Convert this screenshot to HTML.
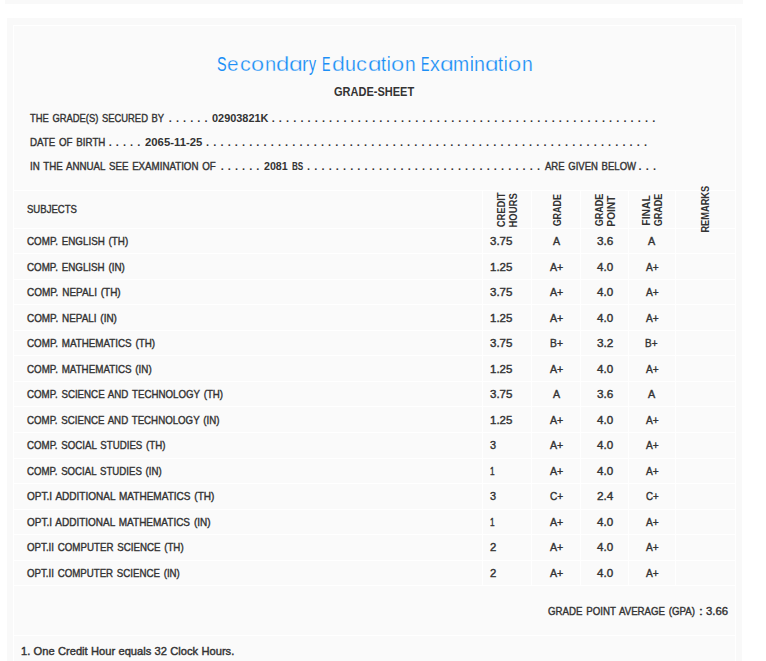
<!DOCTYPE html>
<html><head><meta charset="utf-8"><title>Grade Sheet</title>
<style>
html,body{margin:0;padding:0;}
body{width:766px;height:661px;overflow:hidden;position:relative;background:#ffffff;font-family:"Liberation Sans",sans-serif;}
.bar{position:absolute;left:5px;top:0;width:738px;height:4px;background:#f9f9f9;}
.outer{position:absolute;left:7px;top:18px;width:735px;height:643px;background:#f9f9f9;}
.inner{position:absolute;left:13px;top:25px;width:721px;height:640px;background:#fafafa;border:1px solid #ffffff;}
.ln{position:absolute;left:0;top:0;}
.t{position:absolute;white-space:pre;transform-origin:0 0;font-family:"Liberation Sans",sans-serif;}
.r{position:absolute;width:0;height:0;transform-origin:0 0;}
</style></head><body>
<div class="bar"></div>
<div class="outer"></div>
<div class="inner"></div>
<svg class="ln" width="766" height="661" viewBox="0 0 766 661" fill="#ffffff"><rect x="14" y="190.00" width="721" height="1"/><rect x="14" y="228.00" width="721" height="1"/><rect x="14" y="253.00" width="721" height="1"/><rect x="14" y="279.00" width="721" height="1"/><rect x="14" y="304.00" width="721" height="1"/><rect x="14" y="330.00" width="721" height="1"/><rect x="14" y="355.00" width="721" height="1"/><rect x="14" y="381.00" width="721" height="1"/><rect x="14" y="406.00" width="721" height="1"/><rect x="14" y="432.00" width="721" height="1"/><rect x="14" y="458.00" width="721" height="1"/><rect x="14" y="483.00" width="721" height="1"/><rect x="14" y="509.00" width="721" height="1"/><rect x="14" y="534.00" width="721" height="1"/><rect x="14" y="560.00" width="721" height="1"/><rect x="14" y="585.00" width="721" height="1"/><rect x="14" y="635.00" width="721" height="1"/><rect x="482.00" y="190.00" width="1" height="396.00"/><rect x="531.00" y="190.00" width="1" height="396.00"/><rect x="580.00" y="190.00" width="1" height="396.00"/><rect x="628.00" y="190.00" width="1" height="396.00"/><rect x="675.00" y="190.00" width="1" height="396.00"/></svg>
<span class="t" style="left:217.25px;top:53.97px;font-size:20px;line-height:20px;transform:scaleX(0.7186);color:#1c8ff6;">S</span>
<span class="t" style="left:227.41px;top:53.97px;font-size:20px;line-height:20px;transform:scaleX(1.0426);color:#1c8ff6;-webkit-text-stroke:0.3px #fafafa;">e</span>
<span class="t" style="left:239.69px;top:53.97px;font-size:20px;line-height:20px;transform:scaleX(1.0751);color:#1c8ff6;-webkit-text-stroke:0.3px #fafafa;">c</span>
<span class="t" style="left:251.36px;top:53.97px;font-size:20px;line-height:20px;transform:scaleX(1.1789);color:#1c8ff6;-webkit-text-stroke:0.3px #fafafa;">o</span>
<span class="t" style="left:264.79px;top:53.97px;font-size:20px;line-height:20px;transform:scaleX(1.0058);color:#1c8ff6;-webkit-text-stroke:0.3px #fafafa;">n</span>
<span class="t" style="left:276.15px;top:53.97px;font-size:20px;line-height:20px;transform:scaleX(1.1934);color:#1c8ff6;-webkit-text-stroke:0.3px #fafafa;">d</span>
<span class="t" style="left:289.21px;top:53.97px;font-size:20px;line-height:20px;transform:scaleX(1.2376);color:#1c8ff6;-webkit-text-stroke:0.3px #fafafa;">ɑ</span>
<span class="t" style="left:302.31px;top:53.97px;font-size:20px;line-height:20px;transform:scaleX(0.9901);color:#1c8ff6;-webkit-text-stroke:0.2px #fafafa;">r</span>
<span class="t" style="left:308.96px;top:53.97px;font-size:20px;line-height:20px;transform:scaleX(0.7035);color:#1c8ff6;">y</span>
<span class="t" style="left:321.99px;top:53.97px;font-size:20px;line-height:20px;transform:scaleX(0.6330);color:#1c8ff6;">E</span>
<span class="t" style="left:331.77px;top:53.97px;font-size:20px;line-height:20px;transform:scaleX(1.1602);color:#1c8ff6;-webkit-text-stroke:0.3px #fafafa;">d</span>
<span class="t" style="left:344.77px;top:53.97px;font-size:20px;line-height:20px;transform:scaleX(0.9825);color:#1c8ff6;-webkit-text-stroke:0.2px #fafafa;">u</span>
<span class="t" style="left:356.08px;top:53.97px;font-size:20px;line-height:20px;transform:scaleX(1.0867);color:#1c8ff6;-webkit-text-stroke:0.3px #fafafa;">c</span>
<span class="t" style="left:367.83px;top:53.97px;font-size:20px;line-height:20px;transform:scaleX(1.2155);color:#1c8ff6;-webkit-text-stroke:0.3px #fafafa;">ɑ</span>
<span class="t" style="left:381.33px;top:53.97px;font-size:20px;line-height:20px;transform:scaleX(0.9126);color:#1c8ff6;-webkit-text-stroke:0.2px #fafafa;">t</span>
<span class="t" style="left:387.29px;top:53.97px;font-size:20px;line-height:20px;transform:scaleX(0.7778);color:#1c8ff6;">i</span>
<span class="t" style="left:391.25px;top:53.97px;font-size:20px;line-height:20px;transform:scaleX(1.1895);color:#1c8ff6;-webkit-text-stroke:0.3px #fafafa;">o</span>
<span class="t" style="left:404.65px;top:53.97px;font-size:20px;line-height:20px;transform:scaleX(0.9591);color:#1c8ff6;-webkit-text-stroke:0.2px #fafafa;">n</span>
<span class="t" style="left:421.19px;top:53.97px;font-size:20px;line-height:20px;transform:scaleX(0.6330);color:#1c8ff6;">E</span>
<span class="t" style="left:429.90px;top:53.97px;font-size:20px;line-height:20px;transform:scaleX(0.9792);color:#1c8ff6;-webkit-text-stroke:0.2px #fafafa;">x</span>
<span class="t" style="left:439.61px;top:53.97px;font-size:20px;line-height:20px;transform:scaleX(1.2376);color:#1c8ff6;-webkit-text-stroke:0.3px #fafafa;">ɑ</span>
<span class="t" style="left:453.44px;top:53.97px;font-size:20px;line-height:20px;transform:scaleX(0.9680);color:#1c8ff6;-webkit-text-stroke:0.2px #fafafa;">m</span>
<span class="t" style="left:469.72px;top:53.97px;font-size:20px;line-height:20px;transform:scaleX(0.8333);color:#1c8ff6;">i</span>
<span class="t" style="left:473.72px;top:53.97px;font-size:20px;line-height:20px;transform:scaleX(0.9825);color:#1c8ff6;-webkit-text-stroke:0.2px #fafafa;">n</span>
<span class="t" style="left:484.93px;top:53.97px;font-size:20px;line-height:20px;transform:scaleX(1.2155);color:#1c8ff6;-webkit-text-stroke:0.3px #fafafa;">ɑ</span>
<span class="t" style="left:498.43px;top:53.97px;font-size:20px;line-height:20px;transform:scaleX(0.9126);color:#1c8ff6;-webkit-text-stroke:0.2px #fafafa;">t</span>
<span class="t" style="left:504.49px;top:53.97px;font-size:20px;line-height:20px;transform:scaleX(0.7778);color:#1c8ff6;">i</span>
<span class="t" style="left:508.45px;top:53.97px;font-size:20px;line-height:20px;transform:scaleX(1.1895);color:#1c8ff6;-webkit-text-stroke:0.3px #fafafa;">o</span>
<span class="t" style="left:521.84px;top:53.97px;font-size:20px;line-height:20px;transform:scaleX(0.9708);color:#1c8ff6;-webkit-text-stroke:0.2px #fafafa;">n</span>
<span class="t" style="left:333.96px;top:86.22px;font-size:12.5px;line-height:12.5px;transform:scaleX(0.8805);color:#333333;font-weight:bold;">GRADE-SHEET</span>
<span class="t" style="left:30.13px;top:112.69px;font-size:11px;line-height:11px;transform:scaleX(0.8540);color:#333333;-webkit-text-stroke:0.4px #333333;word-spacing:1.2px;">THE GRADE(S) SECURED BY</span>
<span class="t" style="left:168.80px;top:112.69px;font-size:11px;line-height:11px;letter-spacing:0.507px;font-weight:bold;color:#333333">. . . . . .</span>
<span class="t" style="left:212.00px;top:112.69px;font-size:11px;line-height:11px;transform:scaleX(0.9929);color:#333333;font-weight:bold;">02903821K</span>
<span class="t" style="left:271.70px;top:112.69px;font-size:11px;line-height:11px;letter-spacing:0.533px;font-weight:bold;color:#333333">. . . . . . . . . . . . . . . . . . . . . . . . . . . . . . . . . . . . . . . . . . . . . . . . . . . . . .</span>
<span class="t" style="left:30.00px;top:136.89px;font-size:11px;line-height:11px;transform:scaleX(0.8860);color:#333333;-webkit-text-stroke:0.4px #333333;word-spacing:1.2px;">DATE OF BIRTH</span>
<span class="t" style="left:108.70px;top:136.89px;font-size:11px;line-height:11px;letter-spacing:0.507px;font-weight:bold;color:#333333">. . . . .</span>
<span class="t" style="left:144.84px;top:136.89px;font-size:11px;line-height:11px;transform:scaleX(1.0300);color:#333333;font-weight:bold;">2065-11-25</span>
<span class="t" style="left:206.10px;top:136.89px;font-size:11px;line-height:11px;letter-spacing:0.533px;font-weight:bold;color:#333333">. . . . . . . . . . . . . . . . . . . . . . . . . . . . . . . . . . . . . . . . . . . . . . . . . . . . . . . . . . . . . .</span>
<span class="t" style="left:30.22px;top:160.69px;font-size:11px;line-height:11px;transform:scaleX(0.8847);color:#333333;-webkit-text-stroke:0.4px #333333;word-spacing:1.2px;">IN THE ANNUAL SEE EXAMINATION OF</span>
<span class="t" style="left:220.70px;top:160.69px;font-size:11px;line-height:11px;letter-spacing:0.507px;font-weight:bold;color:#333333">. . . . . .</span>
<span class="t" style="left:263.66px;top:160.69px;font-size:11px;line-height:11px;transform:scaleX(0.9686);color:#333333;font-weight:bold;">2081</span>
<span class="t" style="left:291.88px;top:160.69px;font-size:11px;line-height:11px;transform:scaleX(0.7394);color:#333333;font-weight:bold;">BS</span>
<span class="t" style="left:307.10px;top:160.69px;font-size:11px;line-height:11px;letter-spacing:0.535px;font-weight:bold;color:#333333">. . . . . . . . . . . . . . . . . . . . . . . . . . . . . . . . .</span>
<span class="t" style="left:544.60px;top:160.69px;font-size:11px;line-height:11px;transform:scaleX(0.8663);color:#333333;-webkit-text-stroke:0.4px #333333;word-spacing:1.2px;">ARE GIVEN BELOW</span>
<span class="t" style="left:638.60px;top:160.69px;font-size:11px;line-height:11px;letter-spacing:0.532px;font-weight:bold;color:#333333">. . .</span>
<span class="t" style="left:26.77px;top:203.89px;font-size:11px;line-height:11px;transform:scaleX(0.8680);color:#333333;-webkit-text-stroke:0.4px #333333;word-spacing:1.2px;">SUBJECTS</span>
<div class="r" style="left:505.10px;top:226.70px;transform:rotate(-90deg) scaleX(0.8540);"><span class="t" style="left:-0.45px;top:-9.31px;font-size:11px;line-height:11px;color:#333333;font-weight:bold;">CREDIT</span></div>
<div class="r" style="left:517.30px;top:226.70px;transform:rotate(-90deg) scaleX(0.8642);"><span class="t" style="left:-0.70px;top:-9.31px;font-size:11px;line-height:11px;color:#333333;font-weight:bold;">HOURS</span></div>
<div class="r" style="left:561.20px;top:225.80px;transform:rotate(-90deg) scaleX(0.8149);"><span class="t" style="left:-0.45px;top:-9.31px;font-size:11px;line-height:11px;color:#333333;font-weight:bold;">GRADE</span></div>
<div class="r" style="left:603.40px;top:225.80px;transform:rotate(-90deg) scaleX(0.8226);"><span class="t" style="left:-0.45px;top:-9.31px;font-size:11px;line-height:11px;color:#333333;font-weight:bold;">GRADE</span></div>
<div class="r" style="left:615.10px;top:225.80px;transform:rotate(-90deg) scaleX(0.9224);"><span class="t" style="left:-0.70px;top:-9.31px;font-size:11px;line-height:11px;color:#333333;font-weight:bold;">POINT</span></div>
<div class="r" style="left:650.40px;top:225.00px;transform:rotate(-90deg) scaleX(0.9410);"><span class="t" style="left:-0.70px;top:-9.31px;font-size:11px;line-height:11px;color:#333333;font-weight:bold;">FINAL</span></div>
<div class="r" style="left:662.00px;top:225.80px;transform:rotate(-90deg) scaleX(0.8226);"><span class="t" style="left:-0.45px;top:-9.31px;font-size:11px;line-height:11px;color:#333333;font-weight:bold;">GRADE</span></div>
<div class="r" style="left:708.90px;top:231.80px;transform:rotate(-90deg) scaleX(0.8414);"><span class="t" style="left:-0.70px;top:-9.31px;font-size:11px;line-height:11px;color:#333333;font-weight:bold;">REMARKS</span></div>
<span class="t" style="left:26.71px;top:235.79px;font-size:11px;line-height:11px;transform:scaleX(0.8922);color:#333333;-webkit-text-stroke:0.4px #333333;word-spacing:1.2px;">COMP. ENGLISH (TH)</span>
<span class="t" style="left:489.78px;top:235.79px;font-size:11px;line-height:11px;transform:scaleX(1.0485);color:#333333;-webkit-text-stroke:0.4px #333333;word-spacing:1.2px;">3.75</span>
<span class="t" style="left:553.15px;top:235.79px;font-size:11px;line-height:11px;transform:scaleX(0.9660);color:#333333;-webkit-text-stroke:0.4px #333333;word-spacing:1.2px;">A</span>
<span class="t" style="left:596.77px;top:235.79px;font-size:11px;line-height:11px;transform:scaleX(1.0694);color:#333333;-webkit-text-stroke:0.4px #333333;word-spacing:1.2px;">3.6</span>
<span class="t" style="left:648.30px;top:235.79px;font-size:11px;line-height:11px;transform:scaleX(0.9796);color:#333333;-webkit-text-stroke:0.4px #333333;word-spacing:1.2px;">A</span>
<span class="t" style="left:26.71px;top:261.79px;font-size:11px;line-height:11px;transform:scaleX(0.8908);color:#333333;-webkit-text-stroke:0.4px #333333;word-spacing:1.2px;">COMP. ENGLISH (IN)</span>
<span class="t" style="left:490.16px;top:261.79px;font-size:11px;line-height:11px;transform:scaleX(1.0446);color:#333333;-webkit-text-stroke:0.4px #333333;word-spacing:1.2px;">1.25</span>
<span class="t" style="left:550.30px;top:261.79px;font-size:11px;line-height:11px;transform:scaleX(0.9660);color:#333333;-webkit-text-stroke:0.4px #333333;word-spacing:1.2px;">A+</span>
<span class="t" style="left:596.94px;top:261.79px;font-size:11px;line-height:11px;transform:scaleX(1.0548);color:#333333;-webkit-text-stroke:0.4px #333333;word-spacing:1.2px;">4.0</span>
<span class="t" style="left:645.80px;top:261.79px;font-size:11px;line-height:11px;transform:scaleX(0.9208);color:#333333;-webkit-text-stroke:0.4px #333333;word-spacing:1.2px;">A+</span>
<span class="t" style="left:26.70px;top:286.79px;font-size:11px;line-height:11px;transform:scaleX(0.9056);color:#333333;-webkit-text-stroke:0.4px #333333;word-spacing:1.2px;">COMP. NEPALI (TH)</span>
<span class="t" style="left:489.78px;top:286.79px;font-size:11px;line-height:11px;transform:scaleX(1.0485);color:#333333;-webkit-text-stroke:0.4px #333333;word-spacing:1.2px;">3.75</span>
<span class="t" style="left:550.30px;top:286.79px;font-size:11px;line-height:11px;transform:scaleX(0.9660);color:#333333;-webkit-text-stroke:0.4px #333333;word-spacing:1.2px;">A+</span>
<span class="t" style="left:596.94px;top:286.79px;font-size:11px;line-height:11px;transform:scaleX(1.0548);color:#333333;-webkit-text-stroke:0.4px #333333;word-spacing:1.2px;">4.0</span>
<span class="t" style="left:645.80px;top:286.79px;font-size:11px;line-height:11px;transform:scaleX(0.9208);color:#333333;-webkit-text-stroke:0.4px #333333;word-spacing:1.2px;">A+</span>
<span class="t" style="left:26.70px;top:312.79px;font-size:11px;line-height:11px;transform:scaleX(0.9006);color:#333333;-webkit-text-stroke:0.4px #333333;word-spacing:1.2px;">COMP. NEPALI (IN)</span>
<span class="t" style="left:490.16px;top:312.79px;font-size:11px;line-height:11px;transform:scaleX(1.0446);color:#333333;-webkit-text-stroke:0.4px #333333;word-spacing:1.2px;">1.25</span>
<span class="t" style="left:550.30px;top:312.79px;font-size:11px;line-height:11px;transform:scaleX(0.9660);color:#333333;-webkit-text-stroke:0.4px #333333;word-spacing:1.2px;">A+</span>
<span class="t" style="left:596.94px;top:312.79px;font-size:11px;line-height:11px;transform:scaleX(1.0548);color:#333333;-webkit-text-stroke:0.4px #333333;word-spacing:1.2px;">4.0</span>
<span class="t" style="left:645.80px;top:312.79px;font-size:11px;line-height:11px;transform:scaleX(0.9208);color:#333333;-webkit-text-stroke:0.4px #333333;word-spacing:1.2px;">A+</span>
<span class="t" style="left:26.71px;top:337.79px;font-size:11px;line-height:11px;transform:scaleX(0.8922);color:#333333;-webkit-text-stroke:0.4px #333333;word-spacing:1.2px;">COMP. MATHEMATICS (TH)</span>
<span class="t" style="left:489.78px;top:337.79px;font-size:11px;line-height:11px;transform:scaleX(1.0485);color:#333333;-webkit-text-stroke:0.4px #333333;word-spacing:1.2px;">3.75</span>
<span class="t" style="left:550.05px;top:337.79px;font-size:11px;line-height:11px;transform:scaleX(0.9393);color:#333333;-webkit-text-stroke:0.4px #333333;word-spacing:1.2px;">B+</span>
<span class="t" style="left:596.77px;top:337.79px;font-size:11px;line-height:11px;transform:scaleX(1.0732);color:#333333;-webkit-text-stroke:0.4px #333333;word-spacing:1.2px;">3.2</span>
<span class="t" style="left:645.48px;top:337.79px;font-size:11px;line-height:11px;transform:scaleX(0.9069);color:#333333;-webkit-text-stroke:0.4px #333333;word-spacing:1.2px;">B+</span>
<span class="t" style="left:26.71px;top:363.79px;font-size:11px;line-height:11px;transform:scaleX(0.8911);color:#333333;-webkit-text-stroke:0.4px #333333;word-spacing:1.2px;">COMP. MATHEMATICS (IN)</span>
<span class="t" style="left:490.16px;top:363.79px;font-size:11px;line-height:11px;transform:scaleX(1.0446);color:#333333;-webkit-text-stroke:0.4px #333333;word-spacing:1.2px;">1.25</span>
<span class="t" style="left:550.30px;top:363.79px;font-size:11px;line-height:11px;transform:scaleX(0.9660);color:#333333;-webkit-text-stroke:0.4px #333333;word-spacing:1.2px;">A+</span>
<span class="t" style="left:596.94px;top:363.79px;font-size:11px;line-height:11px;transform:scaleX(1.0548);color:#333333;-webkit-text-stroke:0.4px #333333;word-spacing:1.2px;">4.0</span>
<span class="t" style="left:645.80px;top:363.79px;font-size:11px;line-height:11px;transform:scaleX(0.9208);color:#333333;-webkit-text-stroke:0.4px #333333;word-spacing:1.2px;">A+</span>
<span class="t" style="left:26.71px;top:388.79px;font-size:11px;line-height:11px;transform:scaleX(0.8842);color:#333333;-webkit-text-stroke:0.4px #333333;word-spacing:1.2px;">COMP. SCIENCE AND TECHNOLOGY (TH)</span>
<span class="t" style="left:489.78px;top:388.79px;font-size:11px;line-height:11px;transform:scaleX(1.0485);color:#333333;-webkit-text-stroke:0.4px #333333;word-spacing:1.2px;">3.75</span>
<span class="t" style="left:553.15px;top:388.79px;font-size:11px;line-height:11px;transform:scaleX(0.9660);color:#333333;-webkit-text-stroke:0.4px #333333;word-spacing:1.2px;">A</span>
<span class="t" style="left:596.77px;top:388.79px;font-size:11px;line-height:11px;transform:scaleX(1.0694);color:#333333;-webkit-text-stroke:0.4px #333333;word-spacing:1.2px;">3.6</span>
<span class="t" style="left:648.30px;top:388.79px;font-size:11px;line-height:11px;transform:scaleX(0.9796);color:#333333;-webkit-text-stroke:0.4px #333333;word-spacing:1.2px;">A</span>
<span class="t" style="left:26.71px;top:414.79px;font-size:11px;line-height:11px;transform:scaleX(0.8820);color:#333333;-webkit-text-stroke:0.4px #333333;word-spacing:1.2px;">COMP. SCIENCE AND TECHNOLOGY (IN)</span>
<span class="t" style="left:490.16px;top:414.79px;font-size:11px;line-height:11px;transform:scaleX(1.0446);color:#333333;-webkit-text-stroke:0.4px #333333;word-spacing:1.2px;">1.25</span>
<span class="t" style="left:550.30px;top:414.79px;font-size:11px;line-height:11px;transform:scaleX(0.9660);color:#333333;-webkit-text-stroke:0.4px #333333;word-spacing:1.2px;">A+</span>
<span class="t" style="left:596.94px;top:414.79px;font-size:11px;line-height:11px;transform:scaleX(1.0548);color:#333333;-webkit-text-stroke:0.4px #333333;word-spacing:1.2px;">4.0</span>
<span class="t" style="left:645.80px;top:414.79px;font-size:11px;line-height:11px;transform:scaleX(0.9208);color:#333333;-webkit-text-stroke:0.4px #333333;word-spacing:1.2px;">A+</span>
<span class="t" style="left:26.71px;top:439.79px;font-size:11px;line-height:11px;transform:scaleX(0.8819);color:#333333;-webkit-text-stroke:0.4px #333333;word-spacing:1.2px;">COMP. SOCIAL STUDIES (TH)</span>
<span class="t" style="left:489.80px;top:439.79px;font-size:11px;line-height:11px;transform:scaleX(0.9905);color:#333333;-webkit-text-stroke:0.4px #333333;word-spacing:1.2px;">3</span>
<span class="t" style="left:550.30px;top:439.79px;font-size:11px;line-height:11px;transform:scaleX(0.9660);color:#333333;-webkit-text-stroke:0.4px #333333;word-spacing:1.2px;">A+</span>
<span class="t" style="left:596.94px;top:439.79px;font-size:11px;line-height:11px;transform:scaleX(1.0548);color:#333333;-webkit-text-stroke:0.4px #333333;word-spacing:1.2px;">4.0</span>
<span class="t" style="left:645.80px;top:439.79px;font-size:11px;line-height:11px;transform:scaleX(0.9208);color:#333333;-webkit-text-stroke:0.4px #333333;word-spacing:1.2px;">A+</span>
<span class="t" style="left:26.72px;top:465.79px;font-size:11px;line-height:11px;transform:scaleX(0.8781);color:#333333;-webkit-text-stroke:0.4px #333333;word-spacing:1.2px;">COMP. SOCIAL STUDIES (IN)</span>
<span class="t" style="left:490.40px;top:465.79px;font-size:11px;line-height:11px;transform:scaleX(0.7500);color:#333333;-webkit-text-stroke:0.4px #333333;word-spacing:1.2px;">1</span>
<span class="t" style="left:550.30px;top:465.79px;font-size:11px;line-height:11px;transform:scaleX(0.9660);color:#333333;-webkit-text-stroke:0.4px #333333;word-spacing:1.2px;">A+</span>
<span class="t" style="left:596.94px;top:465.79px;font-size:11px;line-height:11px;transform:scaleX(1.0548);color:#333333;-webkit-text-stroke:0.4px #333333;word-spacing:1.2px;">4.0</span>
<span class="t" style="left:645.80px;top:465.79px;font-size:11px;line-height:11px;transform:scaleX(0.9208);color:#333333;-webkit-text-stroke:0.4px #333333;word-spacing:1.2px;">A+</span>
<span class="t" style="left:26.74px;top:490.79px;font-size:11px;line-height:11px;transform:scaleX(0.9110);color:#333333;-webkit-text-stroke:0.4px #333333;word-spacing:1.2px;">OPT.I ADDITIONAL MATHEMATICS (TH)</span>
<span class="t" style="left:489.80px;top:490.79px;font-size:11px;line-height:11px;transform:scaleX(0.9905);color:#333333;-webkit-text-stroke:0.4px #333333;word-spacing:1.2px;">3</span>
<span class="t" style="left:550.10px;top:490.79px;font-size:11px;line-height:11px;transform:scaleX(0.9173);color:#333333;-webkit-text-stroke:0.4px #333333;word-spacing:1.2px;">C+</span>
<span class="t" style="left:596.61px;top:490.79px;font-size:11px;line-height:11px;transform:scaleX(1.0694);color:#333333;-webkit-text-stroke:0.4px #333333;word-spacing:1.2px;">2.4</span>
<span class="t" style="left:645.51px;top:490.79px;font-size:11px;line-height:11px;transform:scaleX(0.8872);color:#333333;-webkit-text-stroke:0.4px #333333;word-spacing:1.2px;">C+</span>
<span class="t" style="left:26.75px;top:516.79px;font-size:11px;line-height:11px;transform:scaleX(0.9086);color:#333333;-webkit-text-stroke:0.4px #333333;word-spacing:1.2px;">OPT.I ADDITIONAL MATHEMATICS (IN)</span>
<span class="t" style="left:490.40px;top:516.79px;font-size:11px;line-height:11px;transform:scaleX(0.7500);color:#333333;-webkit-text-stroke:0.4px #333333;word-spacing:1.2px;">1</span>
<span class="t" style="left:550.30px;top:516.79px;font-size:11px;line-height:11px;transform:scaleX(0.9660);color:#333333;-webkit-text-stroke:0.4px #333333;word-spacing:1.2px;">A+</span>
<span class="t" style="left:596.94px;top:516.79px;font-size:11px;line-height:11px;transform:scaleX(1.0548);color:#333333;-webkit-text-stroke:0.4px #333333;word-spacing:1.2px;">4.0</span>
<span class="t" style="left:645.80px;top:516.79px;font-size:11px;line-height:11px;transform:scaleX(0.9208);color:#333333;-webkit-text-stroke:0.4px #333333;word-spacing:1.2px;">A+</span>
<span class="t" style="left:26.76px;top:541.79px;font-size:11px;line-height:11px;transform:scaleX(0.8841);color:#333333;-webkit-text-stroke:0.4px #333333;word-spacing:1.2px;">OPT.II COMPUTER SCIENCE (TH)</span>
<span class="t" style="left:489.63px;top:541.79px;font-size:11px;line-height:11px;transform:scaleX(1.0297);color:#333333;-webkit-text-stroke:0.4px #333333;word-spacing:1.2px;">2</span>
<span class="t" style="left:550.30px;top:541.79px;font-size:11px;line-height:11px;transform:scaleX(0.9660);color:#333333;-webkit-text-stroke:0.4px #333333;word-spacing:1.2px;">A+</span>
<span class="t" style="left:596.94px;top:541.79px;font-size:11px;line-height:11px;transform:scaleX(1.0548);color:#333333;-webkit-text-stroke:0.4px #333333;word-spacing:1.2px;">4.0</span>
<span class="t" style="left:645.80px;top:541.79px;font-size:11px;line-height:11px;transform:scaleX(0.9208);color:#333333;-webkit-text-stroke:0.4px #333333;word-spacing:1.2px;">A+</span>
<span class="t" style="left:26.76px;top:567.79px;font-size:11px;line-height:11px;transform:scaleX(0.8808);color:#333333;-webkit-text-stroke:0.4px #333333;word-spacing:1.2px;">OPT.II COMPUTER SCIENCE (IN)</span>
<span class="t" style="left:489.63px;top:567.79px;font-size:11px;line-height:11px;transform:scaleX(1.0297);color:#333333;-webkit-text-stroke:0.4px #333333;word-spacing:1.2px;">2</span>
<span class="t" style="left:550.30px;top:567.79px;font-size:11px;line-height:11px;transform:scaleX(0.9660);color:#333333;-webkit-text-stroke:0.4px #333333;word-spacing:1.2px;">A+</span>
<span class="t" style="left:596.94px;top:567.79px;font-size:11px;line-height:11px;transform:scaleX(1.0548);color:#333333;-webkit-text-stroke:0.4px #333333;word-spacing:1.2px;">4.0</span>
<span class="t" style="left:645.80px;top:567.79px;font-size:11px;line-height:11px;transform:scaleX(0.9208);color:#333333;-webkit-text-stroke:0.4px #333333;word-spacing:1.2px;">A+</span>
<span class="t" style="left:548.42px;top:605.69px;font-size:11px;line-height:11px;transform:scaleX(0.8816);color:#333333;-webkit-text-stroke:0.4px #333333;word-spacing:1.2px;">GRADE POINT AVERAGE (GPA)</span>
<span class="t" style="left:698.53px;top:605.69px;font-size:11px;line-height:11px;transform:scaleX(1.2727);color:#333333;-webkit-text-stroke:0.4px #333333;word-spacing:1.2px;">:</span>
<span class="t" style="left:706.39px;top:605.69px;font-size:11px;line-height:11px;transform:scaleX(1.0316);color:#333333;-webkit-text-stroke:0.4px #333333;word-spacing:1.2px;">3.66</span>
<span class="t" style="left:20.89px;top:645.79px;font-size:11px;line-height:11px;transform:scaleX(1.0132);color:#333333;-webkit-text-stroke:0.4px #333333;word-spacing:0.2px;">1. One Credit Hour equals 32 Clock Hours.</span>
</body></html>
